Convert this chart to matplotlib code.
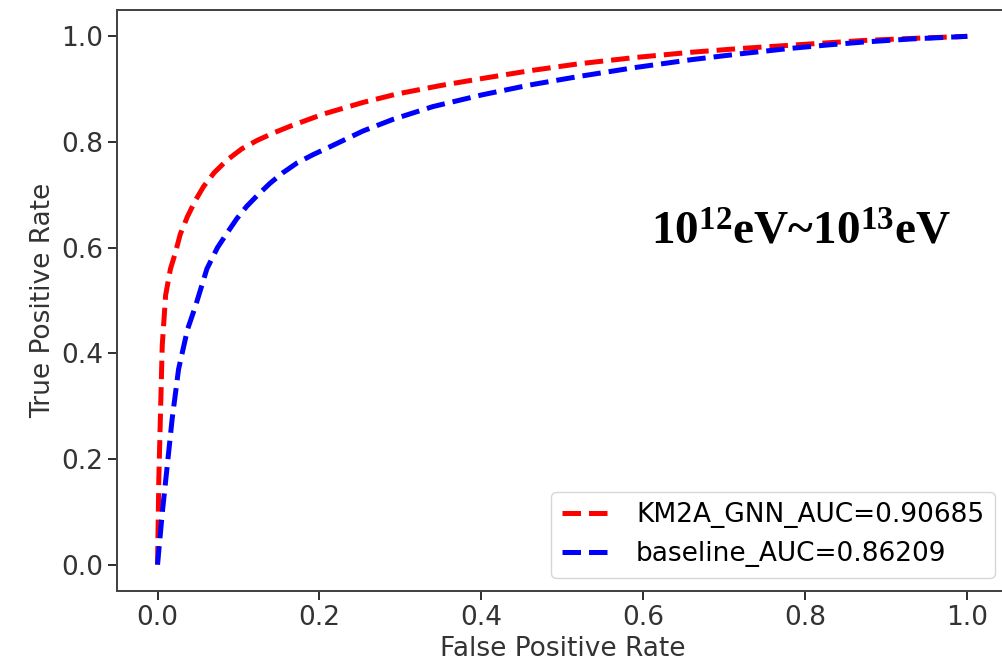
import matplotlib
matplotlib.use("Agg")
import matplotlib.pyplot as plt

# ROC curve points
gnn_fpr = [0.0, 0.0005, 0.0016, 0.0037, 0.0058, 0.010, 0.016, 0.022, 0.028, 0.037,
           0.047, 0.057, 0.070, 0.086, 0.104, 0.123, 0.143, 0.164, 0.205, 0.254,
           0.296, 0.35, 0.40, 0.46, 0.52, 0.59, 0.66, 0.72, 0.78, 0.83, 0.87,
           0.93, 1.0]
gnn_tpr = [0.0, 0.049, 0.162, 0.288, 0.414, 0.51, 0.56, 0.59, 0.625, 0.659,
           0.69, 0.716, 0.742, 0.766, 0.787, 0.803, 0.817, 0.830, 0.853, 0.875,
           0.891, 0.907, 0.920, 0.935, 0.948, 0.960, 0.970, 0.977, 0.983, 0.988,
           0.992, 0.996, 1.0]

base_fpr = [0.0, 0.006, 0.012, 0.018, 0.026, 0.037, 0.047, 0.053, 0.061, 0.074,
            0.086, 0.098, 0.110, 0.124, 0.139, 0.155, 0.172, 0.192, 0.213, 0.254,
            0.291, 0.34, 0.40, 0.46, 0.52, 0.59, 0.66, 0.72, 0.78, 0.83, 0.87,
            0.93, 1.0]
base_tpr = [0.0, 0.10, 0.187, 0.275, 0.370, 0.445, 0.49, 0.52, 0.560, 0.60,
            0.628, 0.655, 0.678, 0.70, 0.722, 0.742, 0.760, 0.776, 0.791, 0.821,
            0.843, 0.867, 0.889, 0.908, 0.924, 0.941, 0.956, 0.967, 0.977, 0.984,
            0.989, 0.995, 1.0]

gnn_label = "KM2A_GNN_AUC=0.90685"
base_label = "baseline_AUC=0.86209"
energy_text = r"$\mathbf{10^{12}}$eV~$\mathbf{10^{13}}$eV"

plt.rcParams["mathtext.fontset"] = "custom"
plt.rcParams["mathtext.bf"] = "Liberation Serif:bold"
plt.rcParams["mathtext.rm"] = "Liberation Serif"

fig = plt.figure(figsize=(10.02, 6.71), dpi=100)
ax = fig.add_axes([0.1168, 0.1192, 0.889, 0.866])

ax.plot(gnn_fpr, gnn_tpr, "r--", lw=3.6, label=gnn_label)
ax.plot(base_fpr, base_tpr, "b--", lw=3.6, label=base_label)

ax.set_xlabel("False Positive Rate", fontsize=19, color="#333333")
ax.set_ylabel("True Positive Rate", fontsize=19, color="#333333")
ax.tick_params(labelsize=19, length=6.3, width=1.44, colors="#333333")
for s in ax.spines.values():
    s.set_linewidth(1.44)
    s.set_color("#444444")

ax.text(0.794, 0.628, energy_text, fontsize=34, fontweight="bold",
        family="Liberation Serif", ha="center", va="center")

ax.legend(loc="lower right", fontsize=19)

fig.savefig("out.png", dpi=100)
